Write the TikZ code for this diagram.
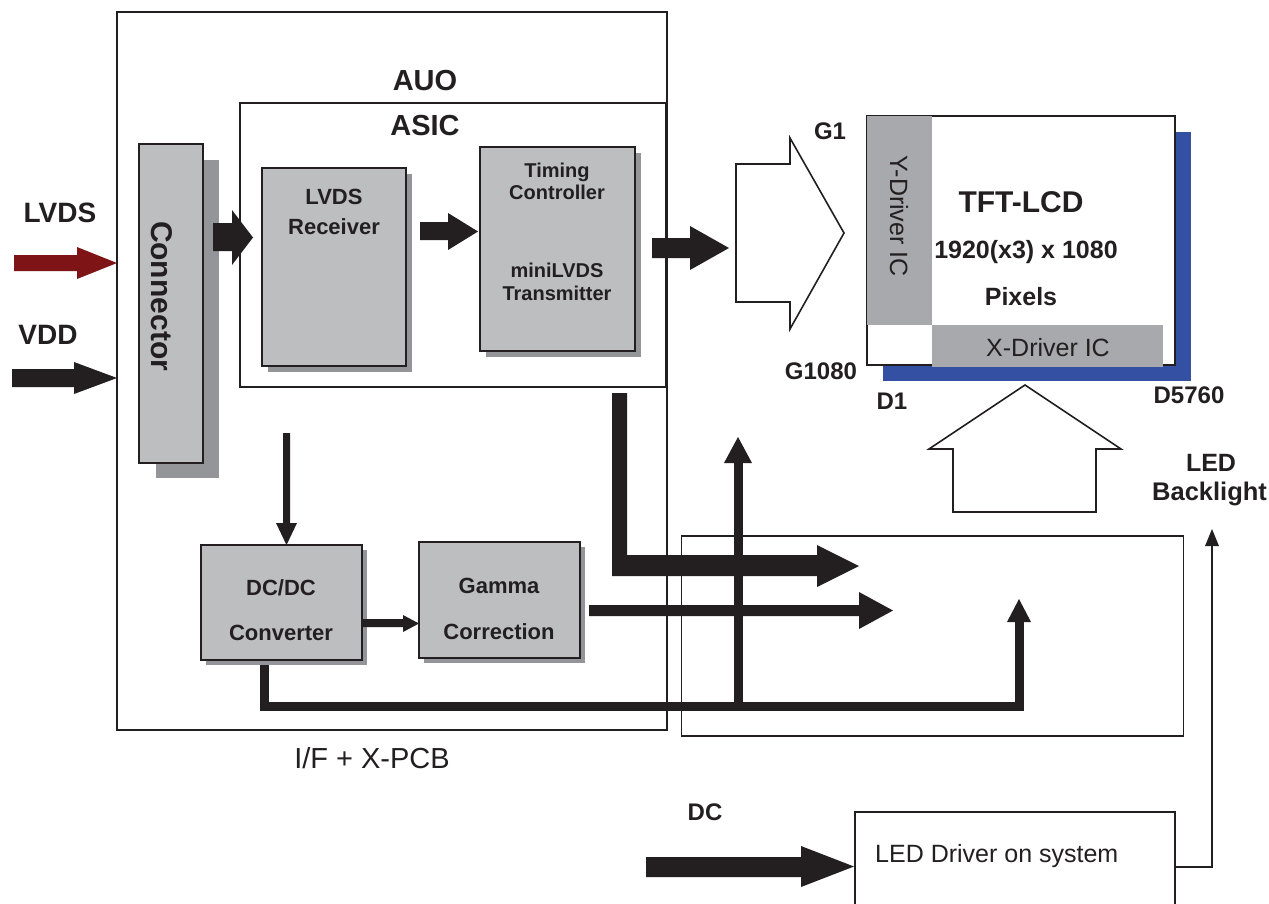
\documentclass[tikz,border=0pt]{standalone}
\usepackage{fontspec}
\setmainfont{Liberation Sans}
\usetikzlibrary{calc}
\definecolor{ink}{HTML}{231F20}
\definecolor{boxgray}{HTML}{BCBEC0}
\definecolor{shadegray}{HTML}{939598}
\definecolor{drvgray}{HTML}{A7A9AC}
\definecolor{lvdsred}{HTML}{7F1417}
\definecolor{panelblue}{HTML}{3450A2}
\begin{document}
\begin{tikzpicture}[x=1pt,y=-1pt,
  frame/.style={draw=ink, line width=1.4pt},
  blk/.style={draw=ink, line width=2.2pt, fill=boxgray, inner sep=0pt},
  shadow/.style={fill=shadegray, draw=none, inner sep=0pt},
  bt/.style={font=\bfseries\fontsize{#1}{#1}\selectfont, text=ink, inner sep=0pt},
  rt/.style={font=\fontsize{#1}{#1}\selectfont, text=ink, inner sep=0pt},
  fat/.style={fill=ink, draw=none},
  wire/.style={draw=ink, line width=#1, line join=miter},
  hollow/.style={draw=ink, line width=1.6pt, fill=white, line join=miter}
]
\useasboundingbox (0,0) rectangle (1269,903);
\clip (0,0) rectangle (1269,903);
\fill[white] (0,0) rectangle (1269,903);

% ---------- frames ----------
\node[frame, minimum width=550pt, minimum height=718pt, inner sep=0pt] (ifpcb) at (392,371) {};
\node[frame, minimum width=426pt, minimum height=284pt, inner sep=0pt] (asic) at (453,245) {};
\node[frame, minimum width=502pt, minimum height=200pt, inner sep=0pt] (xpcb) at (932.5,636) {};

% ---------- thick wires (behind boxes) ----------
% DC/DC -> bottom bus -> X-PCB
\coordinate (busA) at (264,660);
\coordinate (busB) at (264,706);
\coordinate (busC) at (1019,706);
\coordinate (busD) at (1019,621);
\draw[wire=9pt] (busA) -- (busB) -- (busC) -- (busD);
\fill[ink] (1007,622) -- (1019,599) -- (1031,622) -- cycle;
% vertical up arrow to panel
\coordinate (upA) at (738,706);
\coordinate (upB) at (738,462);
\draw[wire=9pt] (upA) -- (upB);
\fill[ink] (724,463) -- (738,437) -- (752,463) -- cycle;
% L-shaped arrow from ASIC
\fill[ink] (612,393) -- (627,393) -- (627,555) -- (817,555) -- (817,545) -- (859,566)
  -- (817,587) -- (817,576) -- (612,576) -- cycle;
% Gamma out arrow
\fill[ink] (589,605) -- (859,605) -- (859,592) -- (893,610.5) -- (859,629) -- (859,616) -- (589,616) -- cycle;

% ---------- grey blocks ----------
\node[shadow, minimum width=63pt, minimum height=318pt] (connsh) at (187.5,319) {};
\node[blk, minimum width=64pt, minimum height=319pt] (conn) at (171,303.5) {};
\node[bt=30, rotate=-90] (conntxt) at (162,296) {Connector};

\node[shadow, minimum width=144pt, minimum height=198pt] (rxsh) at (340,273) {};
\node[blk, minimum width=144pt, minimum height=198pt] (rx) at (334,267) {};
\node[bt=22, align=center, font=\bfseries\fontsize{22}{30}\selectfont] (rxtxt) at (334,212) {LVDS\\Receiver};

\node[shadow, minimum width=155pt, minimum height=204pt] (tcsh) at (563.5,255) {};
\node[blk, minimum width=155pt, minimum height=204pt] (tc) at (557.5,249) {};
\node[bt=20, align=center, font=\bfseries\fontsize{20}{22}\selectfont] (tctxt1) at (557,181) {Timing\\Controller};
\node[bt=20, align=center, font=\bfseries\fontsize{20}{23}\selectfont] (tctxt2) at (557,282) {miniLVDS\\Transmitter};

\node[shadow, minimum width=161pt, minimum height=115pt] (dcsh) at (286.5,607.5) {};
\node[blk, minimum width=161pt, minimum height=115pt] (dc) at (281.5,602.5) {};
\node[bt=22, align=center, font=\bfseries\fontsize{22}{45}\selectfont] (dctxt) at (281,610) {DC/DC\\Converter};

\node[shadow, minimum width=161pt, minimum height=116pt] (gmsh) at (504.5,605) {};
\node[blk, minimum width=161pt, minimum height=116pt] (gm) at (499.5,600) {};
\node[bt=22, align=center, font=\bfseries\fontsize{22}{46}\selectfont] (gmtxt) at (499,609) {Gamma\\Correction};

% ---------- small black arrows ----------
% Connector -> ASIC
\fill[ink] (213,223) -- (232,223) -- (232,210) -- (253,237.5) -- (232,265) -- (232,251) -- (213,251) -- cycle;
% Receiver -> Timing controller
\fill[ink] (420,222) -- (448,222) -- (448,213) -- (478,231.5) -- (448,250) -- (448,240) -- (420,240) -- cycle;
% Timing controller -> panel
\fill[ink] (652,238) -- (690,238) -- (690,226) -- (729,248) -- (690,270) -- (690,258) -- (652,258) -- cycle;
% DC/DC -> Gamma
\fill[ink] (363,619) -- (403,619) -- (403,615) -- (419,623.5) -- (403,632) -- (403,627) -- (363,627) -- cycle;
% down arrow into DC/DC
\fill[ink] (283,433) -- (290,433) -- (290,523) -- (297,523) -- (286.5,545) -- (276,523) -- (283,523) -- cycle;
% LVDS input (red)
\fill[lvdsred] (14,255) -- (77,255) -- (77,247) -- (117,263) -- (77,279) -- (77,271) -- (14,271) -- cycle;
% VDD input
\fill[ink] (12,369) -- (74,369) -- (74,362) -- (117,378) -- (74,394) -- (74,387) -- (12,387) -- cycle;

% ---------- labels ----------
\node[bt=28] (lvdslbl) at (60,213) {LVDS};
\node[bt=28] (vddlbl) at (48,335) {VDD};
\node[bt=29] (auolbl) at (425,81) {AUO};
\node[bt=29] (asiclbl) at (425,126) {ASIC};
\node[rt=29] (ifpcblbl) at (372,758) {I/F + X-PCB};

% ---------- TFT panel ----------
\fill[panelblue] (883,132) rectangle (1191,381);
\node[draw=ink, line width=1.6pt, fill=white, minimum width=308pt, minimum height=249pt, inner sep=0pt] (tft) at (1021,240.5) {};
\fill[drvgray] (867,116) rectangle (932,325);
\fill[drvgray] (932,325) rectangle (1163,367);
\node[rt=25, rotate=-90] (ydrv) at (899,216) {Y-Driver IC};
\node[rt=25] (xdrv) at (1048,348) {X-Driver IC};
\node[bt=30] (tftlbl) at (1021,202) {TFT-LCD};
\node[bt=25] (reslbl) at (1026,252) {1920(x3) x 1080};
\node[bt=25] (pixlbl) at (1021,297) {Pixels};
\node[bt=24] (g1) at (830,131) {G1};
\node[bt=24] (g1080) at (821,371) {G1080};
\node[bt=24] (d1) at (892,401) {D1};
\node[bt=24] (d5760) at (1189,395) {D5760};

% hollow arrows
\draw[hollow] (736,164) -- (790,164) -- (790,138) -- (844,233) -- (790,329) -- (790,302) -- (736,302) -- cycle;
\draw[hollow] (1025,385) -- (1121,449) -- (1096,449) -- (1096,512) -- (953,512) -- (953,449) -- (929,449) -- cycle;

\node[bt=25] (ledlbl) at (1211,463) {LED};
\node[bt=25.5, anchor=west] (bllbl) at (1152,494) {Backlight};

% ---------- LED driver ----------
\draw[ink, line width=1.6pt] (855,915) -- (855,812) -- (1175,812) -- (1175,915);
\node[rt=25, anchor=west] (drvtxt) at (875,856) {LED Driver on system};
\coordinate (drvout) at (1175,867);
\coordinate (blturn) at (1212,867);
\coordinate (bltop) at (1212,545);
\draw[ink, line width=1.5pt] (drvout) -- (blturn) -- (bltop);
\fill[ink] (1205,546) -- (1212,529) -- (1219,546) -- cycle;

% DC input
\fill[ink] (646,857) -- (801,857) -- (801,846) -- (854,866.5) -- (801,887) -- (801,877) -- (646,877) -- cycle;
\node[bt=24] (dclbl) at (705,812) {DC};
\end{tikzpicture}
\end{document}
